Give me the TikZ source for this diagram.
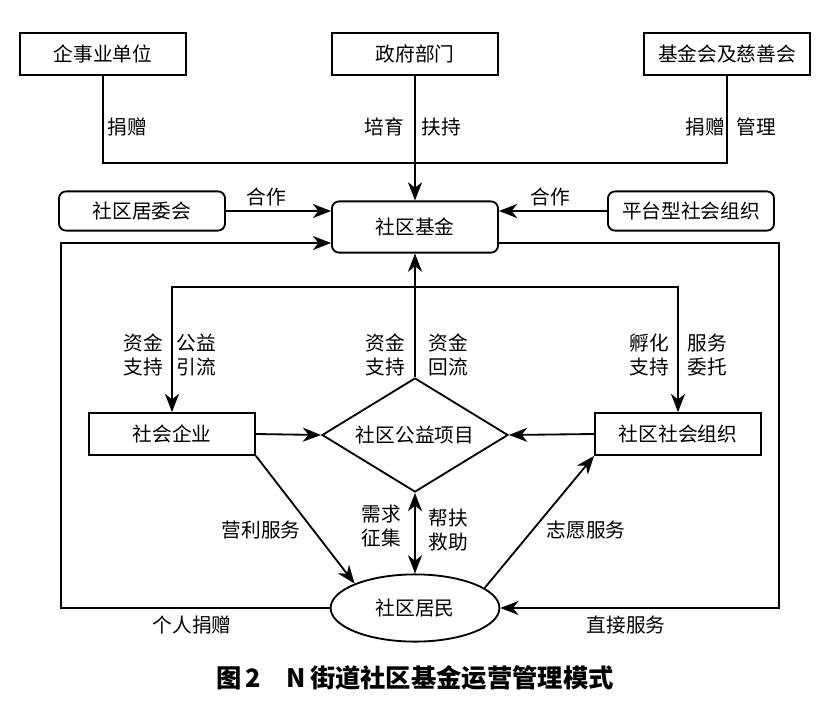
\documentclass[tikz,border=0pt]{standalone}
\usepackage{fontspec}
\setmainfont{Noto Sans CJK SC}
\usetikzlibrary{arrows.meta, shapes.geometric, positioning}

\begin{document}
\begin{tikzpicture}[x=0.025cm, y=-0.025cm, line width=1.3pt]
	\tikzset{>={Stealth[length=13pt, width=10pt, inset=4pt]}, font=\fontsize{14}{17}\selectfont,
		box/.style={draw, rectangle, minimum width=4.15cm, minimum height=1.05cm},
		rbox/.style={box, rounded corners=5pt, minimum height=0.98cm},
		txt/.style={align=center, inner sep=0pt} }
	\useasboundingbox (0,0) rectangle (821,710);

	% boxes
	\node[box] (qsy) at (103,54) {企事业单位};
	\node[box] (zf) at (415,54) {政府部门};
	\node[box] (jjh) at (727,54) {基金会及慈善会};
	\node[rbox] (jwh) at (142,211) {社区居委会};
	\node[rbox, minimum height=1.28cm] (fund) at (415,227) {社区基金};
	\node[rbox] (ptzz) at (691,211) {平台型社会组织};
	\node[box] (sqqy) at (172,434) {社会企业};
	\node[draw, diamond, aspect=1.6, minimum width=4.65cm, minimum height=2.85cm, inner sep=0pt] (proj) at (415,435) {社区公益项目};
	\node[box] (sqzz) at (678,434) {社区社会组织};
	\node[draw, ellipse, minimum width=4.22cm, minimum height=1.68cm, inner sep=0pt] (jm) at (415,608) {社区居民};

	\coordinate (merge) at (415,163);
	\coordinate (split) at (415,287);
	\coordinate (lu) at (61,243);
	\coordinate (ru) at (779,243);

	% connectors
	\draw (qsy.south) -- (qsy.south |- merge) -- (jjh.south |- merge) -- (jjh.south);
	\draw[->] (zf.south) -- (fund.north);
	\draw[->] (jwh.east) -- (jwh.east -| fund.west);
	\draw[->] (ptzz.west) -- (ptzz.west -| fund.east);
	\draw[->] (jm.west) -- (jm.west -| lu) -- (lu) -- (lu -| fund.west);
	\draw[->] (ru -| fund.east) -- (ru) -- (jm.east -| ru) -- (jm.east);
	\draw[->] (proj.north) -- (fund.south);
	\draw[<->] (sqqy.north) -- (sqqy.north |- split) -- (sqzz.north |- split) -- (sqzz.north);
	\draw[->] (sqqy.east) -- (proj.west);
	\draw[->] (sqzz.west) -- (proj.east);
	\draw[<->] (proj.south) -- (jm.north);
	\draw[->] (sqqy.south east) -- (jm.north west);
	\draw[->] (jm.16) -- (sqzz.south west);

	% labels
	\node[txt] (jz1) at (127,127) {捐赠};
	\node[txt] (py) at (384,127) {培育};
	\node[txt] (fc) at (441,127) {扶持};
	\node[txt] (jz2) at (705,127) {捐赠};
	\node[txt] (gl) at (756,127) {管理};
	\node[txt] (hz1) at (266,197) {合作};
	\node[txt] (hz2) at (550,197) {合作};
	\node[txt] (zjzc1) at (143,355) {资金\\支持};
	\node[txt] (gyyl) at (196,355) {公益\\引流};
	\node[txt] (zjzc2) at (385,355) {资金\\支持};
	\node[txt] (zjhl) at (448,355) {资金\\回流};
	\node[txt] (fhzc) at (649,355) {孵化\\支持};
	\node[txt] (fwwt) at (707,355) {服务\\委托};
	\node[txt] (xqzj) at (381,526) {需求\\征集};
	\node[txt] (bfjz) at (448,530) {帮扶\\救助};
	\node[txt] (ylfw) at (261,530) {营利服务};
	\node[txt] (zyfw) at (586,530) {志愿服务};
	\node[txt] (grjz) at (192,625) {个人捐赠};
	\node[txt] (zjfw) at (626,625) {直接服务};

	\node[txt, font=\fontsize{18}{21}\selectfont\bfseries] (cap) at (415,678) {图\,2\quad N\,街道社区基金运营管理模式};
\end{tikzpicture}
\end{document}
